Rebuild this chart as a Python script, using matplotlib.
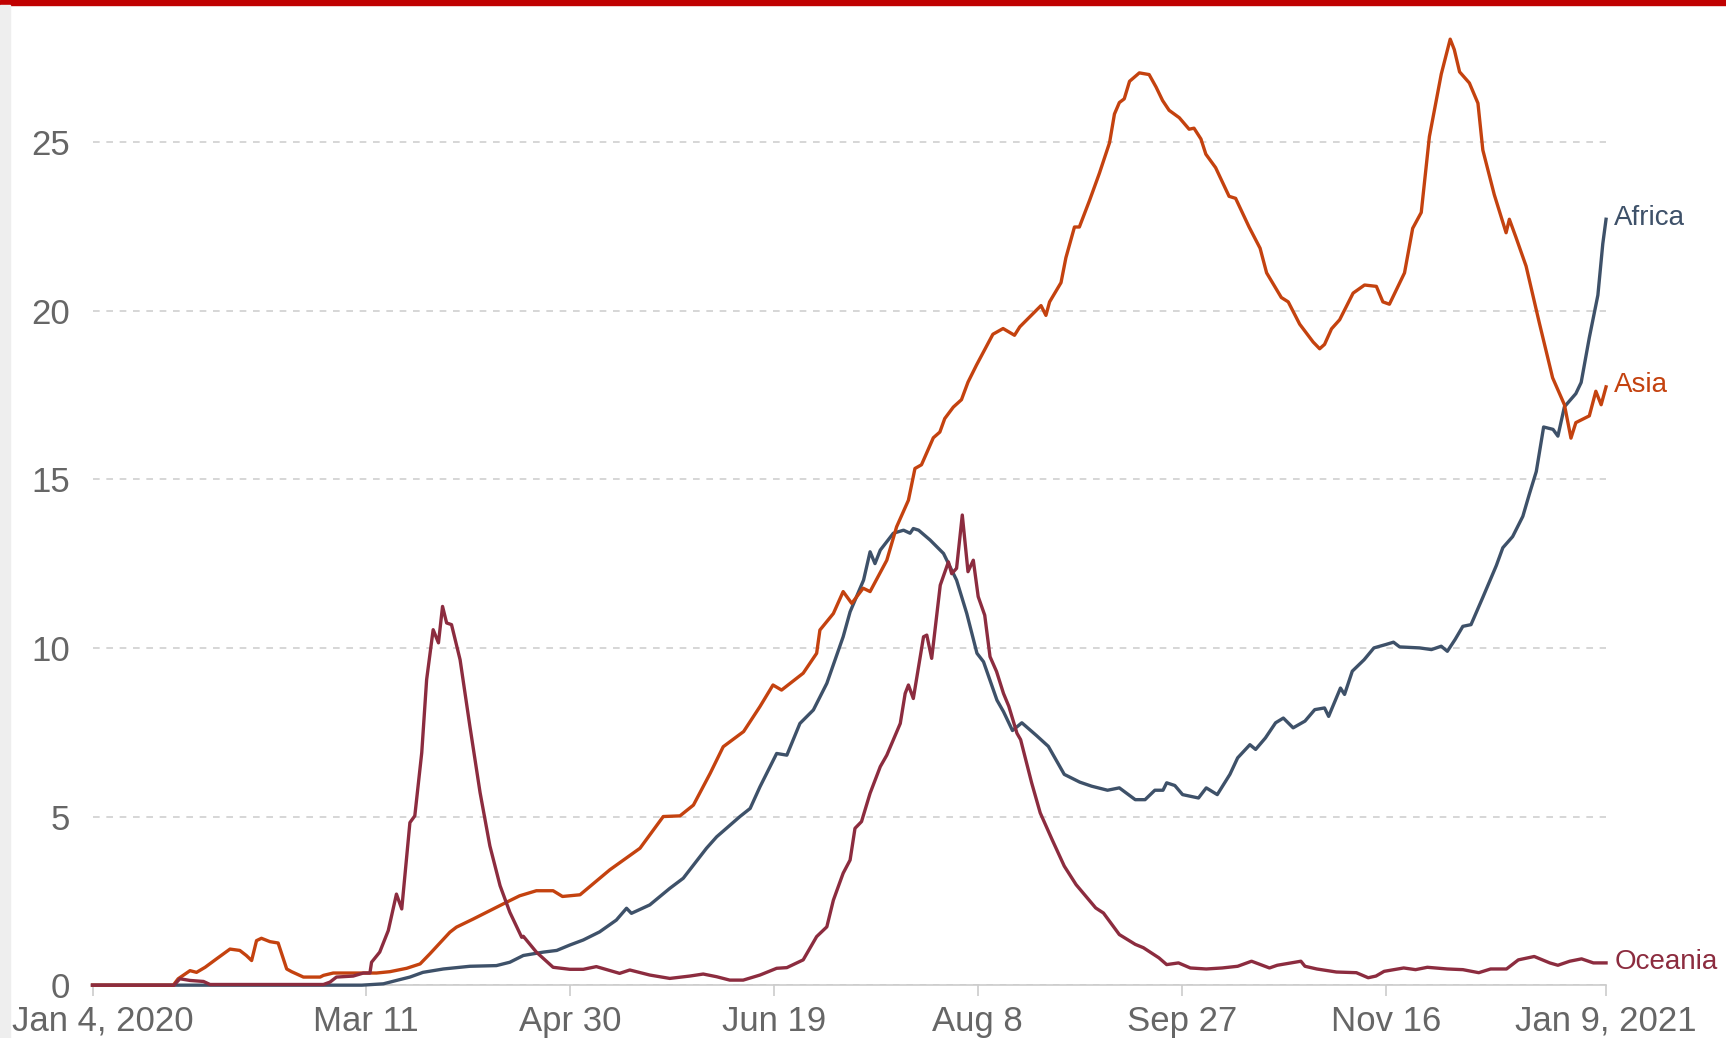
"""Daily new cases by region, 2020 (recreated line chart)."""

import matplotlib

matplotlib.use("Agg")
import matplotlib.pyplot as plt
import matplotlib.transforms as mtransforms
import pandas as pd
from matplotlib.patches import Rectangle

START = pd.Timestamp("2020-01-04")

# days since Jan 4, 2020 and values
africa_days = [0, 56, 66, 71.3, 74.5, 77.8, 81, 86, 92.5, 99, 102.3, 105.6, 110.5, 113.8,
               117, 120.3, 124.3, 128.4, 130.9, 132.1, 136.6, 141.5, 144.8, 150.5, 153,
               158.7, 161.2, 163.6, 167.7, 170.2, 173.4, 176.7, 180, 184, 185.7, 189, 190.6,
               191.8, 193.1, 196.3, 198.8, 200.4, 201.2, 202.5, 205.3, 208.6, 211.8, 214.3,
               216.8, 218.4, 221.7, 223.3, 225.5, 227.8, 231.4, 234.3, 238.2, 242, 244.9,
               248.8, 251.7, 255.6, 258, 260.4, 262.4, 263.3, 265.3, 267.2, 271.1, 273,
               275.7, 278.8, 280.7, 283.7, 285.1, 287.5, 290, 291.9, 294.3, 297.2, 299.6,
               302, 303, 305.9, 306.9, 308.8, 311.7, 314.1, 317, 318.9, 320.4, 325.3, 328.2,
               330.6, 332.1, 334, 335.9, 337.9, 340.8, 344.1, 345.7, 348.1, 350.6, 352.2,
               353.9, 355.7, 358, 359.2, 360.8, 363.6, 364.9, 366.9, 369, 370.2, 371]
africa_vals = [0, 0, 0, 0.04, 0.14, 0.24, 0.38, 0.48, 0.56, 0.58, 0.68, 0.88, 0.98, 1.03,
               1.19, 1.34, 1.58, 1.93, 2.28, 2.13, 2.38, 2.87, 3.17, 4.06, 4.40,
               5.0, 5.24, 5.88, 6.87, 6.82, 7.76, 8.16, 8.95, 10.33, 11.07, 12.01, 12.85,
               12.5, 12.9, 13.4, 13.49, 13.4, 13.54, 13.49, 13.2, 12.8, 12.01, 11.02,
               9.84, 9.59, 8.45, 8.11, 7.55, 7.78, 7.40, 7.08, 6.25, 6.02, 5.90,
               5.78, 5.85, 5.50, 5.50, 5.78, 5.78, 6.0, 5.92, 5.65, 5.55, 5.85,
               5.65, 6.25, 6.74, 7.13, 6.99, 7.33, 7.78, 7.92, 7.63, 7.83, 8.17,
               8.22, 7.97, 8.81, 8.62, 9.31, 9.65, 10.0, 10.10, 10.17, 10.03, 10.0, 9.95,
               10.05, 9.90, 10.25, 10.64, 10.69, 11.5, 12.44, 12.97, 13.3, 13.9, 14.56,
               15.23, 16.55, 16.48, 16.28, 17.15, 17.54, 17.87, 19.2, 20.46, 21.98, 22.71]

asia_days = [0, 19.8, 21, 23.9, 25.5, 27.6, 30.4, 33.7, 36.1, 37.7, 39, 40.2, 41.4, 43.5,
             45.5, 47.6, 48.8, 51.7, 55.8, 56.6, 59, 69.6, 72.9, 77, 80.3, 82.7, 87.6,
             89.2, 93.3, 97.4, 101.5, 104.7, 108.8, 112.9, 115.2, 119.5, 126.8, 134.2,
             139.9, 144, 147.3, 151.4, 154.6, 159.6, 163.6, 166.8, 168.9, 174.2, 177.5,
             178.3, 181.6, 184, 186.1, 188.9, 190.6, 194.7, 197.1, 200, 201.6, 203.2,
             206.1, 207.7, 208.9, 211, 213, 214.6, 216.7, 220.7, 223.2, 226, 227.3, 230.1,
             232.5, 233.7, 234.6, 237.4, 238.6, 240.7, 241.9, 244.4, 246.8, 249.3, 250.5,
             251.7, 252.9, 254.2, 256.6, 259, 260.7, 262.3, 263.9, 266.4, 268.8, 270,
             271.7, 272.9, 275.3, 278.6, 280.2, 283.5, 286.2, 287.8, 291.4, 293.1, 295.9,
             299.2, 300.8, 302, 303.7, 305.7, 309, 311.8, 314.7, 316.3, 317.9, 321.6,
             323.6, 325.7, 327.7, 330.6, 332.8, 333.8, 335.1, 337.5, 339.6, 340.8, 343.6,
             346.5, 347.3, 348.9, 351.4, 354.6, 357.9, 360.8, 362.4, 363.6, 366.9, 368.5,
             369.8, 371]
asia_vals = [0, 0, 0.19, 0.43, 0.38, 0.53, 0.78, 1.07, 1.03, 0.88, 0.73, 1.32, 1.39, 1.29,
             1.25, 0.48, 0.40, 0.24, 0.24, 0.29, 0.36, 0.36, 0.40, 0.50, 0.63, 0.93, 1.57,
             1.72, 1.96, 2.21, 2.46, 2.65, 2.80, 2.80, 2.63, 2.68, 3.42, 4.06,
             5.0, 5.02, 5.34, 6.28, 7.07, 7.52, 8.26, 8.90, 8.75, 9.25, 9.84,
             10.53, 11.02, 11.67, 11.32, 11.77, 11.67, 12.6, 13.59, 14.38, 15.32, 15.43,
             16.23, 16.4, 16.8, 17.14, 17.36, 17.88, 18.39, 19.3, 19.47, 19.27, 19.52, 19.86,
             20.15, 19.86, 20.26, 20.83, 21.57, 22.48, 22.48, 23.27, 24.07, 24.98, 25.83,
             26.17, 26.28, 26.8, 27.05, 27.0, 26.63, 26.23, 25.94, 25.72, 25.38, 25.41,
             25.09, 24.64, 24.24, 23.39, 23.33, 22.48, 21.85, 21.12, 20.39, 20.26, 19.6,
             19.07, 18.87, 19.0, 19.46, 19.73, 20.52, 20.76, 20.72, 20.26, 20.19, 21.12,
             22.44, 22.91, 25.16, 27.01, 28.05, 27.74, 27.08, 26.75, 26.15, 24.76, 23.44,
             22.31, 22.71, 22.18, 21.32, 19.66, 18.01, 17.21, 16.22, 16.68, 16.88, 17.61,
             17.21, 17.74]

oceania_days = [0, 20, 21.4, 23.9, 27.2, 28.8, 56.6, 58.2, 59.8, 63.9, 66.4, 68, 68.4, 70.4,
                72.5, 74.5, 75.8, 77.8, 79, 80.7, 81.9, 83.5, 84.8, 85.8, 86.8, 88, 90.1,
                92.5, 95, 97.4, 99.9, 102.3, 105.2, 105.6, 108.8, 112.9, 117, 120.3, 123.5,
                129.2, 131.7, 136.6, 141.5, 146.4, 149.7, 153, 156.2, 159.5, 163.6, 167.7,
                170.2, 174.2, 177.5, 180, 181.6, 184, 185.7, 186.9, 188.5, 190.6, 193.1,
                194.7, 198, 199.2, 200, 201.2, 203.7, 204.5, 205.7, 207.8, 209.8, 210.6,
                211.8, 213.2, 214.6, 215.9, 217.1, 218.7, 220, 221.6, 223.3, 224.6, 226.6,
                227.5, 230.2, 232.3, 235.2, 238.2, 241.1, 245.9, 247.8, 251.7, 255.6, 257.6,
                261.4, 263.3, 266.2, 269.1, 273, 276.9, 280.7, 284.1, 288.5, 290.4, 296.2,
                297.2, 300.1, 304.9, 309.8, 312.7, 314.6, 316.6, 321.4, 324.3, 327.2, 332.1,
                335.9, 339.8, 342.7, 346.6, 349.5, 353.4, 357.2, 359.2, 362.1, 365, 367.9, 371]
oceania_vals = [0, 0, 0.19, 0.14, 0.11, 0.02, 0.02, 0.09, 0.24, 0.27, 0.36, 0.36, 0.68, 0.98,
                1.62, 2.70, 2.26, 4.82, 5.02, 6.89, 9.06, 10.54, 10.15, 11.23, 10.74, 10.69, 9.65,
                7.68, 5.71, 4.13, 2.95, 2.16, 1.42, 1.45, 0.98, 0.53, 0.47, 0.47, 0.55,
                0.35, 0.45, 0.30, 0.20, 0.27, 0.33, 0.25, 0.15, 0.15, 0.30, 0.50,
                0.52, 0.75, 1.44, 1.73, 2.52, 3.32, 3.71, 4.65, 4.85, 5.69, 6.48,
                6.82, 7.76, 8.65, 8.90, 8.50, 10.33, 10.38, 9.69, 11.86, 12.55, 12.2,
                12.36, 13.94, 12.26, 12.6, 11.52, 10.97, 9.74, 9.3, 8.65, 8.27, 7.47,
                7.28, 6.0, 5.11, 4.32, 3.53, 2.98, 2.29, 2.14, 1.50, 1.21, 1.11,
                0.81, 0.61, 0.66, 0.51, 0.48, 0.51, 0.56, 0.71, 0.51, 0.59, 0.71,
                0.56, 0.48, 0.39, 0.37, 0.22, 0.27, 0.41, 0.51, 0.46, 0.53, 0.48,
                0.46, 0.37, 0.48, 0.48, 0.75, 0.85, 0.66, 0.59, 0.71, 0.78, 0.66, 0.66]

tick_days = [0, 67, 117, 167, 217, 267, 317, 371]
tick_labels = ["Jan 4, 2020", "Mar 11", "Apr 30", "Jun 19", "Aug 8", "Sep 27", "Nov 16",
               "Jan 9, 2021"]
y_ticks = [0, 5, 10, 15, 20, 25]

SERIES = [
    ("Africa", africa_days, africa_vals, "#3e5169"),
    ("Asia", asia_days, asia_vals, "#c4420f"),
    ("Oceania", oceania_days, oceania_vals, "#8c2c3f"),
]


def to_dates(days):
    return START + pd.to_timedelta(days, unit="D")


plt.rcParams["font.family"] = ["Liberation Sans", "DejaVu Sans"]

fig = plt.figure(figsize=(17.26, 10.38), dpi=100)
ax = fig.add_axes([0.0536, 0.0509, 0.8769, 0.926])

for name, days, vals, color in SERIES:
    dates = to_dates(days)
    ax.plot(dates, vals, color=color, linewidth=2.4, clip_on=False, zorder=3)
    ax.annotate(name, xy=(dates[-1], vals[-1]), xytext=(6, 1), textcoords="offset points",
                color=color, fontsize=20, va="center", ha="left", annotation_clip=False)

ax.set_xlim(to_dates([0])[0], to_dates([371])[0])
ax.set_ylim(0, 28.5)

ax.set_xticks(to_dates(tick_days))
ax.set_xticklabels(tick_labels)
ax.set_yticks(y_ticks)
ax.tick_params(axis="x", colors="#cccccc", labelcolor="#666666", labelsize=25,
               length=8, width=1.2, pad=6)
ax.tick_params(axis="y", length=0, labelcolor="#666666", labelsize=25, pad=16)

# first date label is nudged inward so it stays on the page
first = ax.get_xticklabels()[0]
first.set_transform(first.get_transform()
                    + mtransforms.ScaledTranslation(0.1, 0, fig.dpi_scale_trans))

ax.grid(axis="y", color="#d0d0d0", linestyle=(0, (4, 4)), linewidth=1.2)
ax.set_axisbelow(True)
for side in ("top", "right", "left"):
    ax.spines[side].set_visible(False)
ax.spines["bottom"].set_color("#cccccc")
ax.spines["bottom"].set_linewidth(1.2)

# red header band and faint left strip from the page
fig.patches.append(Rectangle((0, 0.995), 1, 0.005, transform=fig.transFigure,
                             color="#c00000", zorder=10))
fig.patches.append(Rectangle((0, 0), 0.006, 0.995, transform=fig.transFigure,
                             color="#eeeeee", zorder=10))

fig.savefig("out.png", dpi=100)
